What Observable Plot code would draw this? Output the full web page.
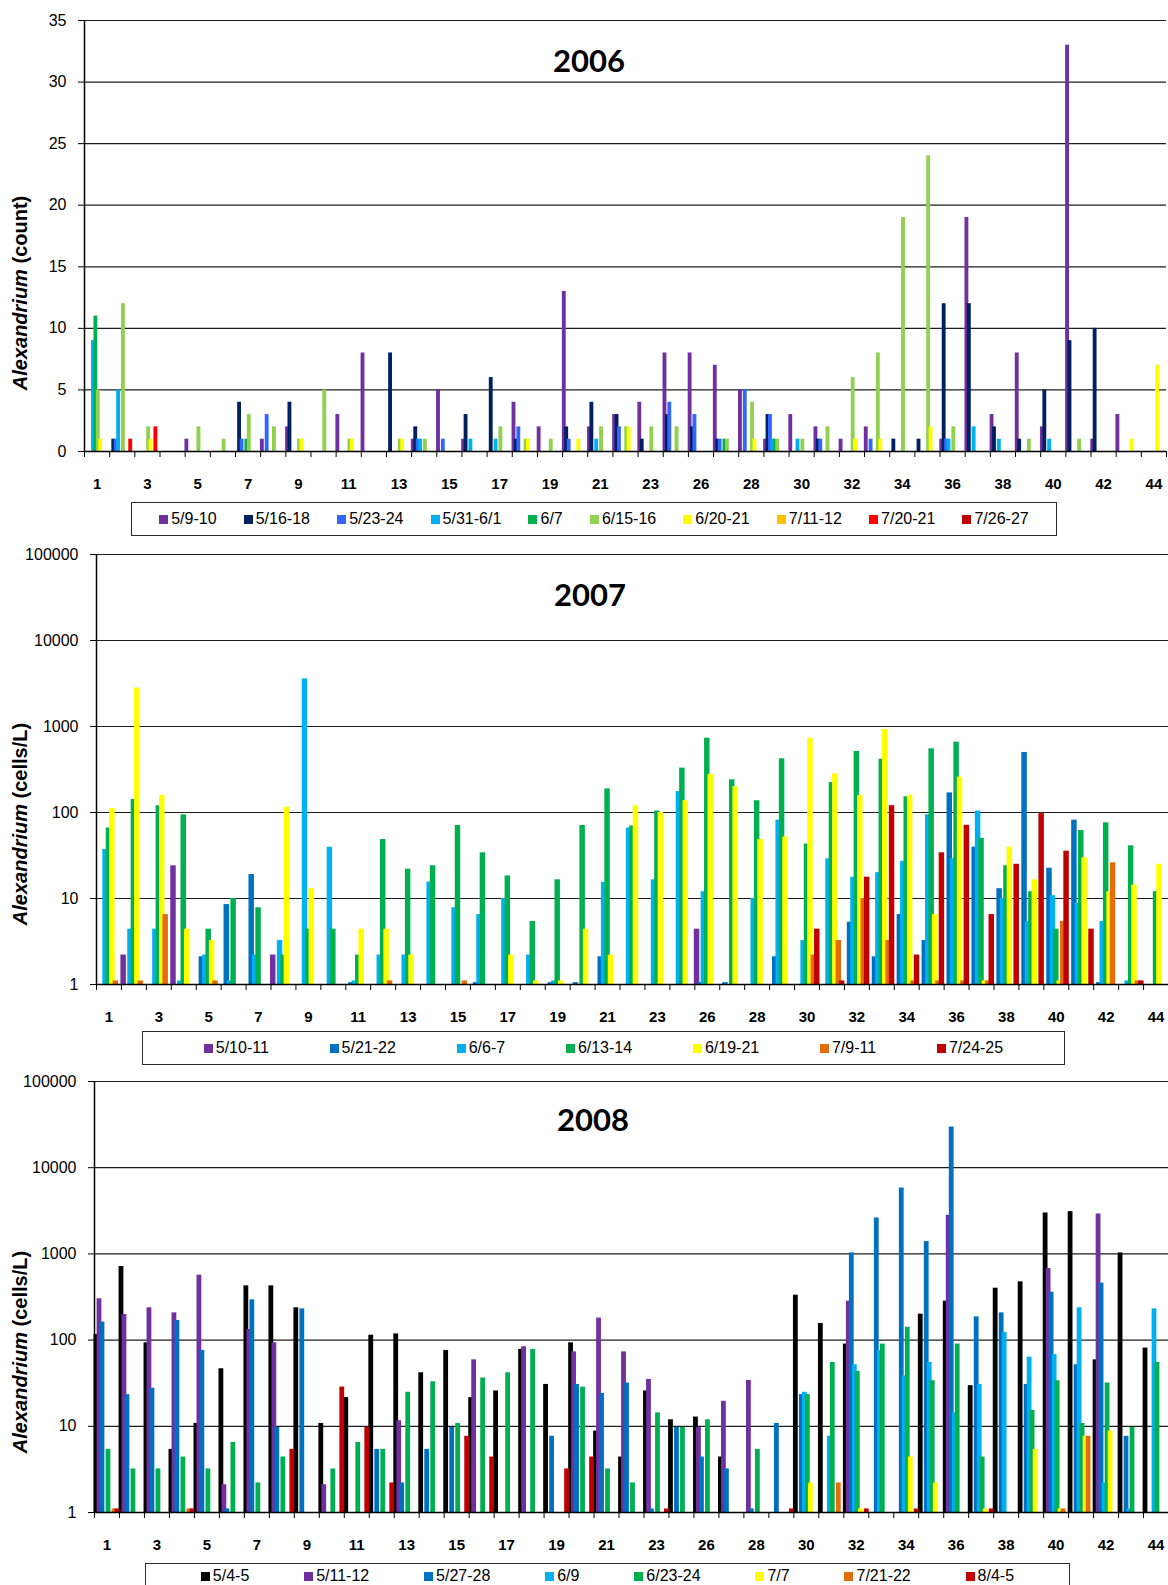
<!DOCTYPE html>
<html>
<head>
<meta charset="utf-8">
<script src="https://cdn.jsdelivr.net/npm/d3@7"></script>
<script src="https://cdn.jsdelivr.net/npm/@observablehq/plot@0.6"></script>
<style>
  html, body { margin: 0; padding: 0; background: #fff; }
  body { position: relative; width: 1168px; height: 1585px; overflow: hidden;
         font-family: "Liberation Sans", Arial, sans-serif; color: #000; }
  .panel { position: absolute; left: 0; }
  .panel svg { display: block; }
  .title { position: absolute; transform: translate(-50%, -50%);
           font-family: Lato, "Liberation Sans", sans-serif; font-weight: bold; font-size: 31px; white-space: nowrap; }
  .ytitle { position: absolute; transform: translate(-50%, -50%) rotate(-90deg);
            font-weight: bold; font-size: 20px; white-space: nowrap; }
  .legend { position: absolute; box-sizing: border-box; border: 1.5px solid #2a2a2a; background: #fff;
            display: flex; justify-content: space-evenly; align-items: center; font-size: 16px; }
  .legend .item { display: inline-flex; align-items: center; white-space: nowrap; }
  .legend .sw { display: inline-block; width: 9px; height: 9px; margin-right: 3px; }
</style>
</head>
<body>
<script>
// Sampling stations along the x axis (station 25 was not sampled)
const stations = ["1","2","3","4","5","6","7","8","9","10","11","12","13","14","15","16","17","18","19","20","21","22","23","24",
  "26","27","28","29","30","31","32","33","34","35","36","37","38","39","40","41","42","43","44"];

// ---- 2006: Alexandrium counts per survey ----
const dates2006 = ["5/9-10","5/16-18","5/23-24","5/31-6/1","6/7","6/15-16","6/20-21","7/11-12","7/20-21","7/26-27"];
const colors2006 = ["#7030a0","#002060","#3366ff","#00b0f0","#00b050","#92d050","#ffff00","#ffc000","#ff0000","#c00000"];
const counts2006 = [
  [0,0,0,0,1,0,0,1,2,0, 3,8,0,1,5,1,0,4,2,13, 2,3,4,8,8,7,5,1,3,2, 1,2,0,0,1,19,3,8,2,33, 1,3,0],
  [0,1,0,0,0,0,4,0,4,0, 0,0,8,2,0,3,6,1,0,2, 4,3,1,3,2,1,0,3,0,1, 0,0,1,1,12,12,2,1,5,9, 10,0,0],
  [0,1,0,0,0,0,1,3,0,0, 0,0,0,1,1,0,0,2,0,1, 0,2,0,4,3,1,5,3,0,1, 0,1,0,0,1,0,0,0,0,0, 0,0,0],
  [9,5,0,0,0,0,0,0,0,0, 0,0,0,1,0,1,1,0,0,0, 1,0,0,0,0,0,0,1,1,0, 0,0,0,0,1,2,1,0,1,0, 0,0,0],
  [11,0,0,0,0,0,1,0,0,0, 0,0,0,0,0,0,0,0,0,0, 0,0,0,0,0,1,0,1,0,0, 0,0,0,0,0,0,0,0,0,0, 0,0,0],
  [5,12,2,0,2,1,3,2,1,5, 1,0,1,1,0,0,2,1,1,0, 2,2,2,2,0,1,4,1,1,2, 6,8,19,24,2,0,0,1,0,1, 0,0,0],
  [1,0,1,0,0,0,0,0,1,0, 1,0,1,0,0,0,0,1,0,1, 0,2,0,0,0,0,1,0,0,0, 1,1,0,2,0,0,0,0,0,0, 0,1,7],
  [0,0,0,0,0,0,0,0,0,0, 0,0,0,0,0,0,0,0,0,0, 0,0,0,0,0,0,0,0,0,0, 0,0,0,0,0,0,0,0,0,0, 0,0,0],
  [0,1,2,0,0,0,0,0,0,0, 0,0,0,0,0,0,0,0,0,0, 0,0,0,0,0,0,0,0,0,0, 0,0,0,0,0,0,0,0,0,0, 0,0,0],
  [0,0,0,0,0,0,0,0,0,0, 0,0,0,0,0,0,0,0,0,0, 0,0,0,0,0,0,0,0,0,0, 0,0,0,0,0,0,0,0,0,0, 0,0,0]
];

// ---- 2007: Alexandrium cells/L per survey ----
const dates2007 = ["5/10-11","5/21-22","6/6-7","6/13-14","6/19-21","7/9-11","7/24-25"];
const colors2007 = ["#7030a0","#0070c0","#00b0f0","#00b050","#ffff00","#e46c0a","#c00000"];
const cells2007 = [
  [0,2.2,0,24,0,0,0,2.2,0,0, 0,0,0,0,0,0,0,0,0,0, 0,0,0,0,4.4,0,0,0,0,0, 0,0,0,0,0,0,0,0,0,0, 0,0,0],
  [0,0,0,0,2.1,8.5,19,0,0,0, 1.05,0,0,0,0,1.05,0,0,1.05,1.05, 2.1,0,0,0,1.05,1.05,0,2.1,0,0, 5.3,2.1,6.5,3.25,169,39.6,13,499,22.5,81.5, 1.05,0,0],
  [37,4.4,4.4,1.1,2.2,1.1,2.2,3.25,3580,39.5, 1.1,2.2,2.2,15.5,7.8,6.5,10,2.2,1.1,0, 15.4,66,16.5,175,12,0,10,81.5,3.25,28.9, 17.7,20,27,94,29,104,10,5.4,10.8,8.8, 5.4,1.1,0],
  [66,142,120,94,4.4,10,7.8,2.2,4.4,4.4, 2.2,48.5,21.9,24,70.6,34,18.3,5.4,16.5,70.6, 188,70,104,328,731,240,137,421,43,223, 512,417,152,550,657,50,24,12,4.4,61.8, 75.8,41,12],
  [111,2800,158,4.4,3.25,0,0,115,13,0, 4.4,4.4,2.2,0,0,0,2.2,1.1,1.1,4.4, 2.2,120,100,137,277,200,48.5,52,731,281, 158,923,158,6.5,258,1.1,39.6,16.5,1.1,29.7, 12,14.3,25],
  [1.1,1.1,6.5,0,1.1,0,0,0,0,0, 0,1.1,0,0,1.1,0,0,0,0,0, 0,0,0,0,0,0,0,0,2.2,3.25, 10,3.25,1.1,1.1,1.1,1.1,0,0,5.4,0, 26,1.1,0],
  [0,0,0,0,0,0,0,0,0,0, 0,0,0,0,0,0,0,0,0,0, 0,0,0,0,0,0,0,0,4.4,1.1, 17.7,120,2.2,34,71,6.5,25,97,35.5,4.4, 0,1.1,0]
];

// ---- 2008: Alexandrium cells/L per survey ----
const dates2008 = ["5/4-5","5/11-12","5/27-28","6/9","6/23-24","7/7","7/21-22","8/4-5"];
const colors2008 = ["#000000","#7030a0","#0070c0","#00b0f0","#00b050","#ffff00","#e46c0a","#c00000"];
const cells2008 = [
  [116,713,93,5.4,10.8,46.5,426,426,237,10.8, 21.5,114,118,41.8,75.9,21.5,25.7,78,30.6,93, 8.8,4.4,25.7,11.9,12.8,4.4,0,0,332,156, 89.9,0,0,200,283,29.6,400,474,2985,3090, 59,1027,80.8],
  [301,198,237,207,566,2.1,133,93,0,2.1, 0,0,11.6,0,0,59,0,83.7,0,73, 180,73,35,0,9.7,19.5,34,0,0,0, 283,0,0,0,2805,0,0,0,676,0, 2905,0,0],
  [162,23.3,27.6,169,75.9,1.1,293,9.7,230,0, 0,5.4,2.2,5.4,9.7,0,0,0,7.66,30.6, 24.1,31.8,1.1,9.7,4.4,3.2,1.1,10.8,23.3,0, 1027,2610,5810,1390,29600,186,207,30.6,360,51.8, 457,7.66,0],
  [0,0,0,0,0,0,0,0,0,0, 0,0,0,0,0,0,0,0,0,0, 0,0,0,0,0,0,0,0,24.8,7.66, 51.8,75.9,38.3,55,14.3,30.6,123,63.5,68.2,237, 2.2,1.1,230],
  [5.4,3.2,3.2,4.4,3.2,6.5,2.2,4.4,0,3.2, 6.5,5.4,24.8,32.9,10.8,36.3,41.8,78,0,28.5, 3.2,2.2,14.3,9.7,11.9,0,5.4,0,23.3,55, 43.4,89.9,141,33.8,89.9,4.4,0,15.3,33.8,10.8, 31.8,9.7,55],
  [0,0,0,0,0,0,0,0,0,0, 0,0,0,0,0,0,0,0,0,0, 0,0,0,0,0,0,0,0,2.2,0, 1.1,0,4.4,2.2,0,1.1,0,5.4,1.1,7.66, 8.8,0,0],
  [1.1,0,0,1.1,0,0,0,0,0,0, 0,0,0,0,0,0,0,0,0,0, 0,0,0,0,0,0,0,0,0,2.2, 0,0,0,0,0,0,0,0,1.1,7.66, 0,0,0],
  [1.1,0,0,1.1,0,0,0,5.4,0,28.5, 9.7,2.2,0,0,7.66,4.4,0,0,3.2,4.4, 0,0,1.1,0,0,0,0,1.1,0,0, 1.1,0,1.1,0,0,1.1,0,0,0,0, 0,0,0]
];

const countTicks = [0,5,10,15,20,25,30,35];
const logTicks = [1,10,100,1000,10000,100000];

// every other station is labelled; tick marks sit on the category boundaries
const labelIdx = stations.map((_, i) => i).filter(i => i % 2 === 0);
const boundaries = stations.map((_, i) => i - 0.5).concat([stations.length - 0.5]);

function drawPanel(cfg) {
  const n = cfg.dates.length;
  const step = 0.96 / n;       // spacing between bars within a station
  const w = 1.6 * step;        // bars overlap slightly, as clustered columns
  const rows = [];
  cfg.values.forEach((vals, s) => vals.forEach((v, i) => {
    if (v > 0) rows.push({i, s, date: cfg.dates[s], v});
  }));
  const base = cfg.yDomain[0];
  const center = d => d.i - 0.48 + (d.s + 0.5) * step;

  const chart = Plot.plot({
    width: 1168,
    height: cfg.height,
    marginTop: cfg.marginTop,
    marginBottom: cfg.marginBottom,
    marginLeft: cfg.marginLeft,
    marginRight: cfg.marginRight,
    style: {fontFamily: '"Liberation Sans", Arial, sans-serif', fontSize: "16px", color: "#000", background: "transparent"},
    x: {type: "linear", domain: [-0.5, stations.length - 0.5], label: null},
    y: {type: cfg.log ? "log" : "linear", domain: cfg.yDomain, label: null},
    color: {domain: cfg.dates, range: cfg.colors},
    marks: [
      Plot.gridY(cfg.yTicks, {stroke: "#1e1e1e", strokeOpacity: 1, strokeWidth: 1.2}),
      Plot.rectY(rows, {
        x1: d => center(d) - w / 2,
        x2: d => center(d) + w / 2,
        y1: base,
        y2: "v",
        fill: "date"
      }),
      Plot.ruleY([base], {stroke: "#000", strokeWidth: 1.4}),
      Plot.ruleX([-0.5], {stroke: "#000", strokeWidth: 1.5}),
      Plot.axisY(cfg.yTicks, {tickSize: 6, tickPadding: 12, fontSize: 16, tickFormat: d3.format("d"), label: null, stroke: "#000"}),
      Plot.axisX(labelIdx, {tickSize: 0, tickPadding: 27, fontSize: 15, fontWeight: "bold", tickFormat: i => stations[i], label: null}),
      Plot.axisX(boundaries, {tickSize: 6, tickFormat: () => "", label: null, stroke: "#000"})
    ]
  });

  const holder = document.createElement("div");
  holder.className = "panel";
  holder.style.top = cfg.top + "px";
  holder.appendChild(chart);
  document.body.appendChild(holder);

  const title = document.createElement("div");
  title.className = "title";
  title.textContent = cfg.title;
  title.style.left = cfg.titlePos[0] + "px";
  title.style.top = cfg.titlePos[1] + "px";
  document.body.appendChild(title);

  const yt = document.createElement("div");
  yt.className = "ytitle";
  yt.innerHTML = "<i>Alexandrium</i> " + cfg.unit;
  yt.style.left = cfg.yTitlePos[0] + "px";
  yt.style.top = cfg.yTitlePos[1] + "px";
  document.body.appendChild(yt);

  const legend = document.createElement("div");
  legend.className = "legend";
  legend.style.left = cfg.legendBox[0] + "px";
  legend.style.top = cfg.legendBox[1] + "px";
  legend.style.width = cfg.legendBox[2] + "px";
  legend.style.height = cfg.legendBox[3] + "px";
  cfg.dates.forEach((d, s) => {
    const item = document.createElement("span");
    item.className = "item";
    const sw = document.createElement("span");
    sw.className = "sw";
    sw.style.background = cfg.colors[s];
    item.appendChild(sw);
    item.appendChild(document.createTextNode(d));
    legend.appendChild(item);
  });
  document.body.appendChild(legend);
}

drawPanel({
  title: "2006", unit: "(count)",
  dates: dates2006, colors: colors2006, values: counts2006,
  log: false, yDomain: [0, 35], yTicks: countTicks,
  top: 0, height: 500, marginTop: 20, marginBottom: 49, marginLeft: 84, marginRight: 2,
  titlePos: [589, 60], yTitlePos: [20, 293], legendBox: [131, 502, 926, 34]
});

drawPanel({
  title: "2007", unit: "(cells/L)",
  dates: dates2007, colors: colors2007, values: cells2007,
  log: true, yDomain: [1, 100000], yTicks: logTicks,
  top: 540, height: 490, marginTop: 14, marginBottom: 46, marginLeft: 96, marginRight: 0,
  titlePos: [590, 594], yTitlePos: [20, 824], legendBox: [142, 1031, 923, 34]
});

drawPanel({
  title: "2008", unit: "(cells/L)",
  dates: dates2008, colors: colors2008, values: cells2008,
  log: true, yDomain: [1, 100000], yTicks: logTicks,
  top: 1070, height: 490, marginTop: 11, marginBottom: 48, marginLeft: 94, marginRight: 0,
  titlePos: [593, 1119], yTitlePos: [20, 1352], legendBox: [145, 1563, 925, 26]
});
</script>
</body>
</html>
